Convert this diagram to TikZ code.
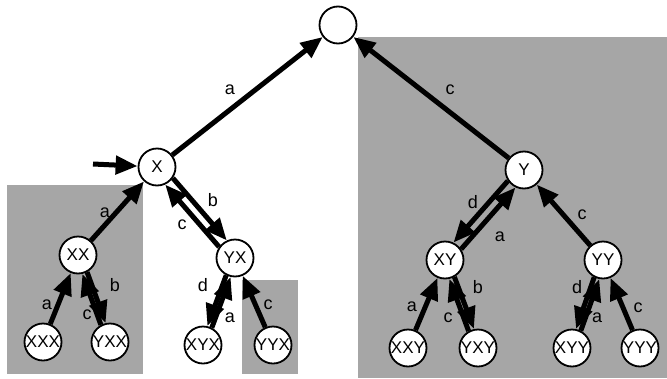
\documentclass[tikz,border=0pt]{standalone}
\usepackage{fontspec}
\setmainfont{Liberation Sans}
\usetikzlibrary{arrows.meta}

\begin{document}
\begin{tikzpicture}[x=1pt,y=-1pt,
    st/.style={circle,draw,line width=1.8pt,fill=white,minimum size=37pt,inner sep=0pt,font=\fontsize{17}{17}\selectfont},
    arr/.style={line width=5pt,-{Triangle[length=22pt,width=18pt]}},
    lbl/.style={font=\fontsize{18}{18}\selectfont},
    shade/.style={fill=black!35}]

    \useasboundingbox (0,0) rectangle (667,378);

    % shaded subtrees
    \fill [shade] (7,185) rectangle (143,374);
    \fill [shade] (242,280) rectangle (298,374);
    \fill [shade] (358,37) rectangle (667,378);

    % states
    \node [st] (root) at (338,25) {};
    \node [st] (X) at (157,167) {X};
    \node [st] (Y) at (524,170) {Y};
    \node [st] (XX) at (78,255) {XX};
    \node [st] (YX) at (235,258) {YX};
    \node [st] (XY) at (445,260) {XY};
    \node [st] (YY) at (603,260) {YY};
    \node [st] (XXX) at (43,342) {XXX};
    \node [st] (YXX) at (110,342) {YXX};
    \node [st] (XYX) at (203,345) {XYX};
    \node [st] (YYX) at (273,345) {YYX};
    \node [st] (XXY) at (408,348) {XXY};
    \node [st] (YXY) at (478,348) {YXY};
    \node [st] (XYY) at (572,348) {XYY};
    \node [st] (YYY) at (640,348) {YYY};
    \coordinate (xin) at (93,164);

    % transitions
    \draw [arr] (X) -- (root);
    \draw [arr] (Y) -- (root);
    \draw [arr] (xin) -- (X);
    \draw [arr] (XX) -- (X);
    \draw [arr] (X.-35) -- (YX.115);
    \draw [arr] (YX.145) -- (X.-65);
    \draw [arr] (XXX) -- (XX);
    \draw [arr] (XX.-62) -- (YXX.103);
    \draw [arr] (YXX.118) -- (XX.-77);
    \draw [arr] (YX.-117) -- (XYX.77);
    \draw [arr] (XYX.63) -- (YX.-103);
    \draw [arr] (YYX) -- (YX);
    \draw [arr] (Y.-146) -- (XY.64);
    \draw [arr] (XY.34) -- (Y.-116);
    \draw [arr] (YY) -- (Y);
    \draw [arr] (XXY) -- (XY);
    \draw [arr] (XY.-61) -- (YXY.102);
    \draw [arr] (YXY.119) -- (XY.-77);
    \draw [arr] (YY.-117) -- (XYY.78);
    \draw [arr] (XYY.63) -- (YY.-101);
    \draw [arr] (YYY) -- (YY);

    % labels
    \node [lbl] (lXr) at (230,90) {a};
    \node [lbl] (lYr) at (450,90) {c};
    \node [lbl] (lXXX) at (105,213) {a};
    \node [lbl] (lXYXb) at (213,200) {b};
    \node [lbl] (lXYXc) at (182,225) {c};
    \node [lbl] (lXXXa) at (47,305) {a};
    \node [lbl] (lYXXb) at (115,285) {b};
    \node [lbl] (lYXXc) at (87,315) {c};
    \node [lbl] (lXYXd) at (203,285) {d};
    \node [lbl] (lXYXa) at (230,318) {a};
    \node [lbl] (lYYX) at (268,305) {c};
    \node [lbl] (lXYd) at (473,202) {d};
    \node [lbl] (lXYa) at (500,237) {a};
    \node [lbl] (lYY) at (582,215) {c};
    \node [lbl] (lXXY) at (412,307) {a};
    \node [lbl] (lYXYb) at (478,287) {b};
    \node [lbl] (lYXYc) at (448,318) {c};
    \node [lbl] (lXYYd) at (577,287) {d};
    \node [lbl] (lXYYa) at (597,318) {a};
    \node [lbl] (lYYY) at (638,308) {c};

\end{tikzpicture}
\end{document}
